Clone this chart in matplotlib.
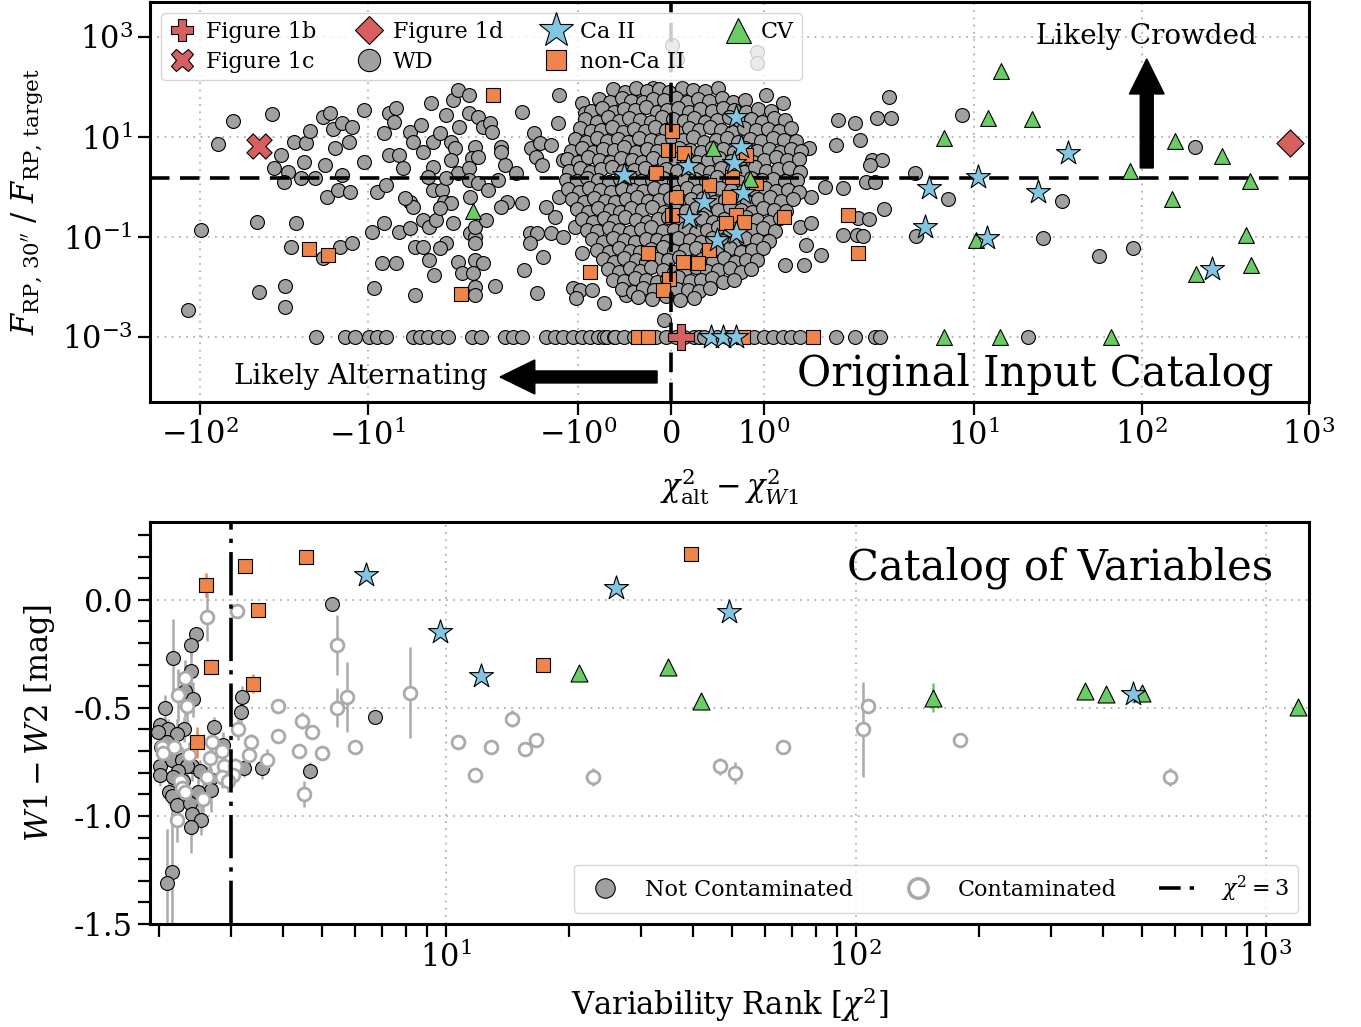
import numpy as np
import matplotlib.pyplot as plt
from matplotlib.lines import Line2D
from matplotlib.ticker import MultipleLocator, NullLocator, NullFormatter

plt.rcParams['font.family'] = 'DejaVu Serif'
plt.rcParams['mathtext.fontset'] = 'dejavuserif'
plt.rcParams['axes.unicode_minus'] = False

RED = '#d65f5f'
ORANGE = '#ee854a'
GREEN = '#6acc64'
CYAN = '#82c6e2'
GREY = '#a0a0a0'
LIGHT = '#aaaaaa'

# ---------------- original input catalog (top panel) ----------------
floor_level = 1e-3
crowd_cut = 1.5

fig1b = (0.107, 1e-3)
fig1c = (-44.5, 6.6)
fig1d = (769.0, 7.6)

caii_x = [0.70, 0.75, 0.18, 0.68, -0.50, 0.77, 0.35, 0.19, 0.70, 0.50, 0.43, 0.56, 0.70,
          5.39, 10.55, 24.0, 36.2, 5.1, 11.9, 264]
caii_y = [25, 6.3, 2.6, 3.0, 1.74, 0.76, 0.5, 0.24, 0.12, 0.087, 1e-3, 1e-3, 1e-3,
          0.95, 1.58, 0.79, 4.8, 0.16, 0.095, 0.023]

cv_x = [-2.37, 0.45, 0.85, 14.5, 12.1, 22.1, 6.6, 159, 303, 84.8, 444, 153, 10.3, 421,
        212, 451, 6.6, 14.3, 65.3]
cv_y = [0.33, 6.0, 1.45, 209, 24, 23, 9.5, 8.3, 4.2, 2.1, 1.32, 0.575, 0.087, 0.11,
        0.018, 0.0275, 1e-3, 1e-3, 1e-3]

nonca_x = [-1.91, -22.4, -17.3, -2.79, -0.87, -0.16, 0.01, -0.03, 0.14, 0.81, 0.66, 0.41,
           0.91, 0.05, 0.62, 0.01, 0.70, 0.59, 0.78, 1.21, -0.25, 0.41, 0.13, 0.29, -0.02,
           -0.09, 1.90, 2.04, -0.35, -0.25, 0.77, 1.53]
nonca_y = [69, 0.058, 0.044, 0.0072, 0.02, 1.9, 13, 5.5, 4.8, 4.4, 1.6, 1.1, 1.2, 0.63,
           0.63, 0.275, 0.275, 0.19, 0.2, 0.25, 0.048, 0.055, 0.032, 0.030, 0.0145, 0.0087,
           0.27, 0.048, 1e-3, 1e-3, 1e-3, 1e-3]

# scattered white dwarfs away from the central clump
wd_x = [-63.5, -37.2, -78, -32.9, -36.2, -29.9, -31.6, -27.5, -23.4, -22.1,
        -24.0, -25.0, -20.7, -18.0, -17.5, -18.5, -16.8, -16.1, -14.3, -12.4,
        -13.0, -15.7, -14.3, -15.1, -12.8, -10.6, -10.6, -45.7, -26.8, -98.6,
        -28.7, -18.5, -14.7, -12.4, -44.5, -31.2, -31.2, -118, -9.2, -8.2,
        -6.8, -8.0, -9.5, -6.5, -5.6, -5.2, -8.8, -7.8, -7.5, -6.8,
        -7.0, -8.0, -7.5, -6.5, -6.2, -5.6, -4.8, -4.2, -5.6, -5.4,
        -6.0, -5.2, -4.7, -4.3, -4.0, -4.7, -4.3, -3.9, -4.1, -3.6,
        -3.5, -3.2, -3.7, -5.4, -4.7, -4.1, -3.7, -3.4, -3.1, -2.9,
        -2.5, -2.85, -3.2, -3.0, -3.2, -2.9, -3.4, -4.1, -4.4, -2.5,
        -2.2, -2.05, -2.3, -2.4, -2.2, -2.5, -2.5, -2.2, -2.45, -1.97,
        -3.1, -2.45, -2.3, -2.3, -2.3, -1.99, -3.4, -3.7, -2.9, -2.3,
        -2.05, -2.75, -2.35, -2.3, -2.3, -1.89, -1.94, -1.92, -1.83, -1.83,
        -1.78, -1.86, -1.76, -1.83, -1.60, -1.67, -1.60, -1.50, -1.47, -1.41,
        -1.45, -1.39, -1.29, -1.21, -1.20, -1.52, -1.44, -1.52, -1.58, -1.38,
        -1.44, -1.29, -1.16, -1.25, -1.34, -1.20, -1.08, -1.02, -1.03, -0.96,
        -1.05, -0.98, -0.85, -1.02, -0.72, -0.96, -0.85, -0.92, -1.0, -1.16,
        -1.03, -0.98, -0.89, -0.79, -0.85, -0.71, -0.66, -0.56, -0.48, -0.08,
        -0.66, -0.56, -0.50, -0.31, -0.19,
        0.01, 0.06, 0.93, 0.93, 1.02, 1.20, 1.48, 1.77, 1.80, 1.98, 2.09, 2.64, 3.12, 3.2,
        2.45, 2.8, 2.4, 4.45, 2.25, 2.55, 1.66, 1.85, 1.50, 1.39, 1.50, 2.9, 2.04, 2.37,
        2.0, 2.18, 1.85, 4.5, 7.0, 8.5, 25.7, 33.4, 55.4, 89.5, 209, 1.61, 1.23, 1.43, 1.45]
wd_y = [20.9, 28.8, 7.2, 4.4, 2.4, 2.0, 1.26, 7.9, 7.6, 13.2,
        3.2, 1.5, 1.5, 2.75, 0.63, 25, 30, 14.5, 19, 15.8,
        7.9, 6.0, 1.74, 0.87, 0.79, 35, 3.2, 0.2, 0.19, 0.138,
        0.063, 0.038, 0.063, 0.076, 0.0079, 0.0105, 0.004, 0.0035, 0.0095, 0.030,
        0.030, 0.19, 0.126, 0.126, 0.15, 0.0069, 0.79, 1.1, 30, 38,
        20, 12, 4.4, 4.4, 2.4, 12.6, 17.4, 48, 0.5, 0.4,
        0.6, 0.063, 0.063, 0.035, 0.017, 0.22, 0.16, 0.22, 0.87, 0.87,
        0.5, 0.48, 0.38, 7.9, 5.0, 7.9, 12, 27.5, 55, 87,
        69, 15.8, 7.9, 6.0, 3.5, 1.9, 1.5, 2.5, 1.6, 30,
        25, 15.8, 6.3, 3.8, 4.0, 2.4, 1.4, 1.2, 0.63, 0.87,
        0.19, 0.12, 0.1, 0.076, 0.16, 0.22, 0.076, 0.06, 0.0316, 0.035,
        0.030, 0.019, 0.019, 0.01, 0.0069, 0.0105, 19, 12.6, 6.3, 5.0,
        2.75, 1.4, 0.5, 0.4, 0.48, 1.9, 32, 6.0, 12, 7.6,
        4.0, 2.75, 6.9, 19, 69, 0.12, 0.12, 0.076, 0.022, 0.04,
        0.0076, 0.12, 0.1, 0.25, 0.4, 0.63, 1.0, 0.48, 0.16, 0.048,
        0.0095, 0.0087, 0.0087, 0.006, 0.0048, 48, 22, 30, 10, 3.5,
        3.0, 6.3, 4.0, 7.6, 1.6, 0.63, 0.076, 0.019, 0.0069, 0.0022,
        44, 44, 25, 55, 95,
        690, 360, 500, 300, 69, 48, 6.0, 6.9, 22, 19, 8.7, 24, 63, 24,
        3.5, 3.5, 2.8, 1.9, 1.26, 1.26, 1.0, 0.97, 0.62, 0.158, 0.19, 0.36, 0.24, 0.23,
        0.11, 0.105, 0.11, 0.105, 0.575, 27.5, 0.094, 0.52, 0.042, 0.06, 6.3, 0.044, 0.028,
        0.028, 0.069]

# white dwarfs sitting on the flux-ratio floor
wd_floor_x = [-20.4, -13.7, -11.9, -9.9, -8.8, -7.8, -5.4, -4.9, -4.4, -3.8, -3.3, -2.4,
              -2.1, -1.78, -1.70, -1.60, -1.34, -1.25, -1.16, -1.05, -0.96, -0.87, -0.78,
              -0.72, -0.69, -0.61, -0.60, -0.50, -0.40, -0.30, -0.18, -0.16, -0.05, 0.05,
              0.14, 0.25, 0.30, 0.35, 0.50, 0.60, 0.65, 0.75, 0.80, 0.89, 1.0, 1.10, 1.20,
              1.29, 1.39, 1.77, 1.98, 2.55, 2.75, 20.9]

# dense clump of white dwarfs around zero, listed row by row
core_x_rows = [
    [-0.62, -0.49, -0.38, -0.26, -0.13, -0.02, 0.12, 0.24, 0.37, 0.51],
    [-0.77, -0.66, -0.53, -0.43, -0.30, -0.19, -0.07, 0.05, 0.17, 0.29, 0.41, 0.55, 0.67, 0.80],
    [-0.86, -0.74, -0.61, -0.50, -0.39, -0.27, -0.15, -0.04, 0.08, 0.19, 0.31, 0.44, 0.56,
     0.68, 0.81, 0.94, 1.07],
    [-0.92, -0.80, -0.68, -0.56, -0.45, -0.33, -0.21, -0.10, 0.02, 0.14, 0.25, 0.37, 0.49,
     0.62, 0.74, 0.86, 0.98, 1.11, 1.23],
    [-0.98, -0.86, -0.75, -0.63, -0.52, -0.40, -0.28, -0.17, -0.05, 0.07, 0.19, 0.30, 0.42,
     0.54, 0.66, 0.79, 0.91, 1.04, 1.16, 1.29],
    [-1.03, -0.91, -0.80, -0.69, -0.57, -0.46, -0.34, -0.22, -0.11, 0.01, 0.13, 0.24, 0.36,
     0.48, 0.60, 0.72, 0.85, 0.97, 1.10, 1.22, 1.34],
    [-1.07, -0.96, -0.84, -0.73, -0.61, -0.50, -0.38, -0.26, -0.15, -0.03, 0.09, 0.20, 0.32,
     0.44, 0.56, 0.68, 0.80, 0.93, 1.05, 1.17, 1.29, 1.40],
    [-1.12, -1.00, -0.89, -0.77, -0.66, -0.54, -0.42, -0.31, -0.19, -0.07, 0.05, 0.16, 0.28,
     0.40, 0.52, 0.64, 0.76, 0.88, 1.00, 1.13, 1.25, 1.38],
    [-1.10, -0.98, -0.87, -0.75, -0.63, -0.52, -0.40, -0.28, -0.17, -0.05, 0.07, 0.18, 0.30,
     0.42, 0.54, 0.66, 0.78, 0.90, 1.02, 1.15, 1.27, 1.39],
    [-1.13, -1.01, -0.90, -0.78, -0.67, -0.55, -0.44, -0.32, -0.20, -0.09, 0.03, 0.14, 0.26,
     0.38, 0.50, 0.62, 0.74, 0.86, 0.98, 1.10, 1.23, 1.36],
    [-1.11, -0.99, -0.88, -0.76, -0.64, -0.53, -0.41, -0.30, -0.18, -0.06, 0.06, 0.17, 0.29,
     0.41, 0.53, 0.65, 0.77, 0.89, 1.01, 1.13, 1.26, 1.38],
    [-1.06, -0.94, -0.83, -0.71, -0.60, -0.48, -0.36, -0.25, -0.13, -0.01, 0.11, 0.22, 0.34,
     0.46, 0.58, 0.70, 0.82, 0.94, 1.06, 1.18, 1.31],
    [-1.01, -0.89, -0.78, -0.66, -0.55, -0.43, -0.31, -0.20, -0.08, 0.04, 0.16, 0.27, 0.39,
     0.51, 0.63, 0.75, 0.87, 0.99, 1.11, 1.24],
    [-0.96, -0.84, -0.72, -0.61, -0.49, -0.38, -0.26, -0.14, -0.03, 0.09, 0.21, 0.33, 0.45,
     0.57, 0.69, 0.81, 0.93, 1.05, 1.17],
    [-0.90, -0.79, -0.67, -0.56, -0.44, -0.32, -0.21, -0.09, 0.03, 0.15, 0.27, 0.39, 0.51,
     0.63, 0.75, 0.87, 0.99, 1.12],
    [-0.85, -0.73, -0.62, -0.50, -0.39, -0.27, -0.15, -0.04, 0.08, 0.20, 0.32, 0.44, 0.56,
     0.68, 0.80, 0.92, 1.05],
    [-0.79, -0.67, -0.56, -0.44, -0.33, -0.21, -0.09, 0.03, 0.15, 0.27, 0.39, 0.51, 0.63,
     0.75, 0.87, 0.99],
    [-0.73, -0.61, -0.50, -0.38, -0.27, -0.15, -0.03, 0.09, 0.21, 0.33, 0.45, 0.57, 0.69,
     0.81, 0.92],
    [-0.68, -0.56, -0.44, -0.33, -0.21, -0.09, 0.03, 0.15, 0.27, 0.39, 0.51, 0.63, 0.75, 0.86],
    [-0.62, -0.50, -0.39, -0.27, -0.15, -0.04, 0.08, 0.20, 0.32, 0.44, 0.56, 0.68],
    [-0.53, -0.41, -0.30, -0.18, -0.06, 0.06, 0.18, 0.30, 0.42],
    [-0.35, -0.20, -0.05, 0.10, 0.25],
]
core_y_rows = [
    [92, 80, 95, 84, 90, 78, 97, 86, 81, 93],
    [57, 50, 60, 53, 49, 58, 54, 61, 50, 56, 52, 59, 51, 55],
    [33, 38, 31, 36, 34, 39, 32, 35, 37, 31, 36, 33, 38, 34, 31, 36, 33],
    [23, 20, 25, 21, 24, 22, 20, 25, 23, 21, 24, 20, 22, 25, 21, 23, 20, 24, 22],
    [15, 13, 14, 16, 12.5, 14.5, 13, 15.5, 14, 12.8, 15, 13.5, 16, 14, 12.6, 15, 13.8, 14.6,
     12.9, 15.2],
    [9.2, 8.0, 9.7, 8.4, 8.9, 7.8, 9.5, 8.6, 8.1, 9.3, 8.5, 9.8, 8.0, 8.8, 9.4, 7.9, 9.0, 8.3,
     9.6, 8.7, 8.2],
    [5.2, 6.0, 4.9, 5.7, 5.4, 6.2, 5.0, 5.8, 5.3, 4.9, 6.1, 5.5, 5.1, 5.9, 5.6, 4.9, 6.0, 5.3,
     5.8, 5.0, 5.6, 5.2],
    [3.6, 3.2, 3.9, 3.4, 3.1, 3.7, 3.5, 3.2, 3.8, 3.3, 3.6, 3.9, 3.1, 3.5, 3.7, 3.3, 3.8, 3.2,
     3.5, 3.9, 3.4, 3.6],
    [2.1, 2.4, 2.0, 2.3, 2.5, 2.1, 2.2, 2.4, 2.0, 2.3, 2.1, 2.5, 2.2, 2.0, 2.4, 2.2, 2.0, 2.5,
     2.1, 2.3, 2.4, 2.0],
    [1.4, 1.3, 1.5, 1.35, 1.25, 1.45, 1.55, 1.3, 1.4, 1.5, 1.25, 1.35, 1.45, 1.3, 1.55, 1.4,
     1.25, 1.5, 1.35, 1.45, 1.3, 1.4],
    [0.9, 0.8, 0.95, 0.85, 0.78, 0.92, 0.88, 0.82, 0.97, 0.86, 0.8, 0.93, 0.84, 0.79, 0.96,
     0.87, 0.81, 0.9, 0.95, 0.83, 0.88, 0.8],
    [0.56, 0.5, 0.6, 0.53, 0.49, 0.58, 0.62, 0.52, 0.55, 0.6, 0.5, 0.57, 0.61, 0.51, 0.54,
     0.59, 0.49, 0.56, 0.62, 0.52, 0.57],
    [0.36, 0.32, 0.38, 0.34, 0.31, 0.37, 0.35, 0.39, 0.32, 0.36, 0.33, 0.38, 0.31, 0.35, 0.39,
     0.34, 0.32, 0.37, 0.35, 0.33],
    [0.23, 0.2, 0.24, 0.21, 0.25, 0.22, 0.2, 0.23, 0.25, 0.21, 0.22, 0.24, 0.2, 0.23, 0.21,
     0.25, 0.22, 0.2, 0.24],
    [0.14, 0.13, 0.15, 0.135, 0.125, 0.145, 0.155, 0.13, 0.14, 0.15, 0.125, 0.14, 0.155, 0.13,
     0.145, 0.135, 0.15, 0.13],
    [0.09, 0.08, 0.095, 0.085, 0.078, 0.092, 0.088, 0.082, 0.097, 0.086, 0.08, 0.093, 0.084,
     0.079, 0.096, 0.087, 0.081],
    [0.056, 0.05, 0.06, 0.053, 0.049, 0.058, 0.062, 0.052, 0.055, 0.06, 0.05, 0.057, 0.061,
     0.051, 0.054, 0.059],
    [0.036, 0.032, 0.038, 0.034, 0.031, 0.037, 0.035, 0.039, 0.032, 0.036, 0.033, 0.038,
     0.031, 0.035, 0.034],
    [0.023, 0.02, 0.024, 0.021, 0.025, 0.022, 0.02, 0.023, 0.025, 0.021, 0.022, 0.024, 0.02,
     0.023],
    [0.014, 0.013, 0.015, 0.0135, 0.0125, 0.0145, 0.0155, 0.013, 0.014, 0.015, 0.0125, 0.014],
    [0.009, 0.008, 0.0095, 0.0085, 0.0078, 0.0092, 0.0088, 0.0082, 0.0097],
    [0.0062, 0.0058, 0.0065, 0.0056, 0.006],
]

# ---------------- catalog of variables (bottom panel) ----------------
chi2_cut = 3

nc_x = [2.46, 2.39, 2.16, 2.39, 2.31, 2.42, 2.07, 3.18, 3.16, 2.72, 2.01, 2.10, 1.99, 2.30,
        2.21, 2.09, 2.02, 2.86, 2.01, 2.01, 2.15, 2.27, 2.40, 2.51, 2.66, 2.67, 2.29, 2.12,
        2.15, 2.21, 2.38, 2.49, 2.40, 2.53, 2.39, 3.22, 3.56, 2.15, 2.09, 2.34, 2.22, 2.16,
        5.27, 6.71, 4.66]
nc_y = [-0.16, -0.21, -0.27, -0.33, -0.42, -0.46, -0.50, -0.45, -0.52, -0.59, -0.58, -0.60,
        -0.61, -0.60, -0.62, -0.66, -0.68, -0.67, -0.77, -0.81, -0.74, -0.74, -0.77, -0.79,
        -0.83, -0.88, -0.84, -0.89, -0.91, -0.95, -0.94, -0.89, -0.99, -1.02, -1.05, -0.78,
        -0.78, -1.26, -1.31, -0.77, -0.79, -0.82, -0.02, -0.54, -0.79]
nc_err = [0.03, 0.05, 0.18, 0.10, 0.12, 0.08, 0.06, 0.05, 0.06, 0.05, 0.04, 0.05, 0.04,
          0.06, 0.07, 0.05, 0.05, 0.06, 0.05, 0.05, 0.08, 0.06, 0.07, 0.05, 0.06, 0.10, 0.08,
          0.06, 0.10, 0.08, 0.07, 0.09, 0.10, 0.07, 0.12, 0.04, 0.05, 0.28, 0.25, 0.05, 0.06,
          0.06, 0.0, 0.02, 0.04]

con_x = [2.31, 2.22, 2.34, 2.03, 2.18, 2.04, 2.36, 2.69, 2.84, 2.66, 2.88, 3.06, 2.84, 3.03,
         2.94, 2.25, 2.27, 2.56, 2.21, 3.11, 3.36, 3.31, 3.67, 3.89, 3.91, 2.62, 2.31, 2.61,
         3.09, 5.42, 5.73, 5.42, 8.17, 4.45, 4.71, 4.38, 4.98, 6.00, 4.50, 10.7, 11.8, 12.9,
         14.5, 15.6, 16.6, 22.9, 46.6, 50.7, 66.3, 107, 104, 180, 584]
con_y = [-0.36, -0.44, -0.49, -0.68, -0.68, -0.71, -0.72, -0.66, -0.70, -0.73, -0.77, -0.77,
         -0.82, -0.81, -0.84, -0.84, -0.87, -0.92, -1.02, -0.60, -0.66, -0.72, -0.74, -0.49,
         -0.63, -0.82, -0.89, -0.08, -0.05, -0.21, -0.45, -0.50, -0.43, -0.56, -0.61, -0.70,
         -0.71, -0.68, -0.90, -0.66, -0.81, -0.68, -0.55, -0.69, -0.65, -0.82, -0.77, -0.80,
         -0.68, -0.49, -0.60, -0.65, -0.82]
con_err = [0.08, 0.12, 0.10, 0.04, 0.05, 0.04, 0.06, 0.05, 0.04, 0.05, 0.04, 0.04, 0.05,
           0.04, 0.05, 0.10, 0.08, 0.08, 0.10, 0.05, 0.04, 0.05, 0.05, 0.03, 0.03, 0.05, 0.07,
           0.11, 0.0, 0.14, 0.16, 0.09, 0.21, 0.04, 0.03, 0.03, 0.03, 0.03, 0.06, 0.0, 0.0,
           0.0, 0.04, 0.03, 0.0, 0.04, 0.04, 0.05, 0.0, 0.02, 0.22, 0.0, 0.04]

var_nonca_x = [2.60, 3.24, 4.56, 3.48, 2.67, 3.38, 2.47, 39.6, 17.3]
var_nonca_y = [0.069, 0.157, 0.198, -0.046, -0.309, -0.388, -0.660, 0.212, -0.300]
var_nonca_err = [0.055, 0.0, 0.0, 0.0, 0.035, 0.045, 0.07, 0.0, 0.0]

var_caii_x = [6.38, 9.67, 26.0, 49.0, 12.2, 474]
var_caii_y = [0.115, -0.148, 0.055, -0.055, -0.351, -0.438]
var_caii_err = [0.0, 0.0, 0.0, 0.0, 0.03, 0.04]

var_cv_x = [21.1, 34.8, 41.9, 154, 362, 407, 499, 1197]
var_cv_y = [-0.337, -0.309, -0.466, -0.452, -0.420, -0.438, -0.429, -0.498]
var_cv_err = [0.0, 0.0, 0.0, 0.065, 0.0, 0.0, 0.02, 0.0]


def style_axes(ax):
    for sp in ax.spines.values():
        sp.set_linewidth(2.2)
    ax.tick_params(which='both', direction='out', length=9, width=1.6, labelsize=22,
                   top=False, right=False)
    ax.grid(True, which='major', ls=(0, (1, 3)), color='#b0b0b0', lw=1.3)
    ax.set_axisbelow(True)


fig = plt.figure(figsize=(13.61, 10.27), dpi=100)
ax1 = fig.add_axes([0.1102, 0.6086, 0.8516, 0.3895])
ax2 = fig.add_axes([0.1102, 0.1003, 0.8516, 0.3914])

# ---- top panel ----
ax1.set_xscale('symlog', linthresh=2, linscale=1)
ax1.set_yscale('log')

core_x = np.concatenate(core_x_rows)
core_y = np.concatenate(core_y_rows)
all_wd_x = np.concatenate([wd_x, core_x, wd_floor_x])
all_wd_y = np.concatenate([wd_y, core_y, np.full(len(wd_floor_x), floor_level)])

ax1.scatter(all_wd_x, all_wd_y, s=100, c=GREY, edgecolors='k', linewidths=0.8, zorder=2)
ax1.scatter(nonca_x, nonca_y, s=100, marker='s', c=ORANGE, edgecolors='k', linewidths=0.8,
            zorder=2.5)
ax1.axhline(crowd_cut, color='k', lw=2.6, dashes=(5.4, 2.9), zorder=3)
ax1.axvline(0, color='k', lw=2.6, dashes=(5.4, 2.9), zorder=3)
ax1.scatter(cv_x, cv_y, s=130, marker='^', c=GREEN, edgecolors='k', linewidths=0.8, zorder=4)
ax1.scatter(caii_x, caii_y, s=330, marker='*', c=CYAN, edgecolors='k', linewidths=0.8,
            zorder=4.5)
ax1.scatter(*fig1b, s=330, marker='P', c=RED, edgecolors='k', linewidths=0.8, zorder=5)
ax1.scatter(*fig1c, s=330, marker='X', c=RED, edgecolors='k', linewidths=0.8, zorder=5)
ax1.scatter(*fig1d, s=190, marker='D', c=RED, edgecolors='k', linewidths=0.8, zorder=5)

ax1.set_xlim(-200, 1000)
ax1.set_ylim(5e-5, 5e3)
ax1.set_xticks([-100, -10, -1, 0, 1, 10, 100, 1000])
ax1.set_xticklabels([r'$-10^{2}$', r'$-10^{1}$', r'$-10^{0}$', r'$0$', r'$10^{0}$',
                     r'$10^{1}$', r'$10^{2}$', r'$10^{3}$'])
ax1.xaxis.set_minor_locator(NullLocator())
ax1.set_yticks([1e3, 1e1, 1e-1, 1e-3])
ax1.set_yticklabels([r'$10^{3}$', r'$10^{1}$', r'$10^{-1}$', r'$10^{-3}$'])
ax1.yaxis.set_minor_locator(NullLocator())
style_axes(ax1)
ax1.set_xlabel(r'$\chi^2_{\rm alt} - \chi^2_{W1}$', fontsize=22, labelpad=10)
ax1.set_ylabel(r"$F_{\rm RP,\,30''}\ /\ F_{\rm RP,\,target}$", fontsize=22, labelpad=12)

ax1.arrow(0.860, 0.585, 0, 0.2725, transform=ax1.transAxes, width=0.0112,
          head_width=0.030, head_length=0.0875, length_includes_head=True,
          color='k', zorder=6)
ax1.text(0.860, 0.9125, 'Likely Crowded', transform=ax1.transAxes, ha='center',
         va='center', fontsize=20, zorder=6)
ax1.arrow(0.4375, 0.0625, -0.1355, 0, transform=ax1.transAxes, width=0.03,
          head_width=0.085, head_length=0.030, length_includes_head=True,
          color='k', zorder=6)
ax1.text(0.291, 0.0625, 'Likely Alternating', transform=ax1.transAxes, ha='right',
         va='center', fontsize=20, zorder=6)
ax1.text(0.969, 0.07, 'Original Input Catalog', transform=ax1.transAxes, ha='right',
         va='center', fontsize=30, zorder=6)

top_handles = [
    Line2D([], [], ls='none', marker='P', ms=16.5, mfc=RED, mec='k', mew=0.8),
    Line2D([], [], ls='none', marker='X', ms=16.5, mfc=RED, mec='k', mew=0.8),
    Line2D([], [], ls='none', marker='D', ms=14, mfc=RED, mec='k', mew=0.8),
    Line2D([], [], ls='none', marker='o', ms=16, mfc=GREY, mec='k', mew=0.8),
    Line2D([], [], ls='none', marker='*', ms=26, mfc=CYAN, mec='k', mew=0.8),
    Line2D([], [], ls='none', marker='s', ms=15, mfc=ORANGE, mec='k', mew=0.8),
    Line2D([], [], ls='none', marker='^', ms=18, mfc=GREEN, mec='k', mew=0.8),
]
top_labels = ['Figure 1b', 'Figure 1c', 'Figure 1d', 'WD', 'Ca II', 'non-Ca II', 'CV']
ax1.legend(top_handles, top_labels, loc='upper left', ncol=4, fontsize=16,
           handlelength=1.2, handletextpad=0.45, columnspacing=1.8, labelspacing=0.35,
           borderpad=0.35)

# ---- bottom panel ----
ax2.set_xscale('log')
ax2.errorbar(nc_x, nc_y, yerr=nc_err, fmt='none', ecolor=LIGHT, elinewidth=1.8, zorder=1.5)
ax2.errorbar(con_x, con_y, yerr=con_err, fmt='none', ecolor=LIGHT, elinewidth=1.8, zorder=1.5)
ax2.scatter(nc_x, nc_y, s=100, c=GREY, edgecolors='k', linewidths=0.8, zorder=2)
ax2.scatter(con_x, con_y, s=85, c='white', edgecolors=LIGHT, linewidths=2.0, zorder=2.2)
ax2.axvline(chi2_cut, color='k', lw=2.6, dashes=(12, 2.5, 1.2, 2.5), zorder=3)

ax2.errorbar(var_nonca_x, var_nonca_y, yerr=var_nonca_err, fmt='none', ecolor=ORANGE,
             elinewidth=1.8, zorder=3.5)
ax2.scatter(var_nonca_x, var_nonca_y, s=100, marker='s', c=ORANGE, edgecolors='k',
            linewidths=0.8, zorder=4)
ax2.errorbar(var_cv_x, var_cv_y, yerr=var_cv_err, fmt='none', ecolor=GREEN, elinewidth=1.8,
             zorder=3.5)
ax2.scatter(var_cv_x, var_cv_y, s=150, marker='^', c=GREEN, edgecolors='k', linewidths=0.8,
            zorder=4)
ax2.errorbar(var_caii_x, var_caii_y, yerr=var_caii_err, fmt='none', ecolor=CYAN,
             elinewidth=1.8, zorder=3.5)
ax2.scatter(var_caii_x, var_caii_y, s=330, marker='*', c=CYAN, edgecolors='k',
            linewidths=0.8, zorder=4.5)

ax2.set_xlim(1.9, 1275)
ax2.set_ylim(-1.5, 0.36)
ax2.yaxis.set_major_locator(MultipleLocator(0.5))
ax2.yaxis.set_minor_locator(MultipleLocator(0.1))
ax2.xaxis.set_minor_formatter(NullFormatter())
style_axes(ax2)
ax2.set_xlabel(r'Variability Rank [$\chi^2$]', fontsize=22, labelpad=8)
ax2.set_ylabel(r'$W1-W2$ [mag]', fontsize=22, labelpad=12)
ax2.text(0.969, 0.886, 'Catalog of Variables', transform=ax2.transAxes, ha='right',
         va='center', fontsize=30, zorder=6)

bottom_handles = [
    Line2D([], [], ls='none', marker='o', ms=14, mfc=GREY, mec='k', mew=0.8),
    Line2D([], [], ls='none', marker='o', ms=14, mfc='white', mec=LIGHT, mew=2.5),
    Line2D([], [], color='k', lw=2.6, dashes=(6, 2.5, 1.2, 2.5)),
]
ax2.legend(bottom_handles, ['Not Contaminated', 'Contaminated', r'$\chi^2 = 3$'],
           loc='lower right', ncol=3, fontsize=16, columnspacing=1.9, handletextpad=0.8)

fig.savefig('out.png', dpi=100)
